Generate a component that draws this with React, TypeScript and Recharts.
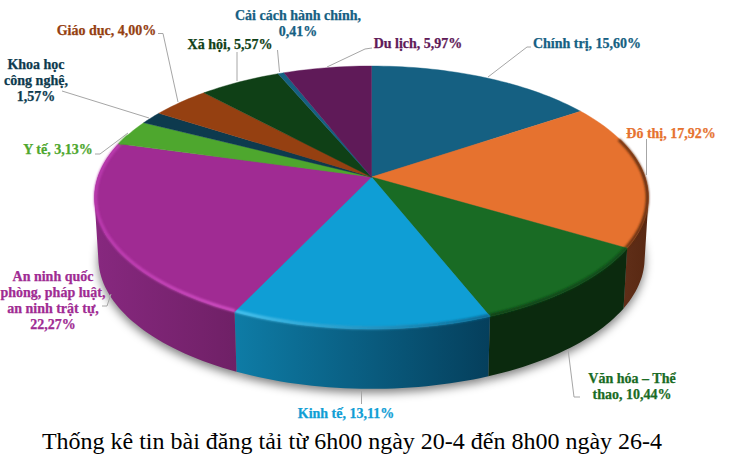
import { PieChart, Pie } from "recharts"

const categories = [
  "Chính trị", "Đô thị", "Văn hóa – Thể thao", "Kinh tế",
  "An ninh quốc phòng, pháp luật, an ninh trật tự", "Y tế", "Khoa học công nghệ",
  "Giáo dục", "Xã hội", "Cải cách hành chính", "Du lịch",
]
const shares = [15.6, 17.92, 10.44, 13.11, 22.27, 3.13, 1.57, 4.0, 5.57, 0.41, 5.97]
const colors = [
  "#156082", "#E6722F", "#196B24", "#0F9ED5", "#A02B93", "#4EA72E",
  "#0D3A4E", "#954011", "#0F4016", "#156082", "#5F1A58",
]
// left / right shade of the side wall
const wallLeft = ["#0b3a50", "#62301a", "#0b2a0e", "#0e7ca6", "#87287f", "#2f6a1c", "#0a2a38", "#5c2a0c", "#0a2a0e", "#0b3a50", "#3c1038"]
const wallRight = ["#0b3a50", "#582812", "#0b2a0e", "#053f5c", "#6f2066", "#2f6a1c", "#0a2a38", "#5c2a0c", "#0a2a0e", "#0b3a50", "#3c1038"]
// bevel along the top edge
const rimLeft = ["#156082", "#6e3312", "#0f4016", "#4cc6f2", "#bb3aaf", "#4EA72E", "#0D3A4E", "#954011", "#0F4016", "#156082", "#5F1A58"]
const rimRight = ["#156082", "#5a2a10", "#124a1a", "#0b6690", "#d350c6", "#4EA72E", "#0D3A4E", "#954011", "#0F4016", "#156082", "#5F1A58"]

const labelLines = [
  ["Chính trị, 15,60%"],
  ["Đô thị, 17,92%"],
  ["Văn hóa – Thể", "thao, 10,44%"],
  ["Kinh tế, 13,11%"],
  ["An ninh quốc", "phòng, pháp luật,", "an ninh trật tự,", "22,27%"],
  ["Y tế, 3,13%"],
  ["Khoa học", "công nghệ,", "1,57%"],
  ["Giáo dục, 4,00%"],
  ["Xã hội, 5,57%"],
  ["Cải cách hành chính,", "0,41%"],
  ["Du lịch, 5,97%"],
]

// label centre and top line baseline, then the leader's bend points
const labelLayout = [
  { x: 587, y: 48, leader: [[531, 47], [527, 47], [488, 77]] },
  { x: 671, y: 138, leader: [[646.5, 139], [646.5, 175]] },
  { x: 632, y: 383, leader: [[580, 397], [574, 397], [568, 349]] },
  { x: 346, y: 418, leader: [[361.5, 404], [361.5, 391]] },
  { x: 53, y: 281, leader: [[102, 306], [107, 306], [111, 294]] },
  { x: 58, y: 154, leader: [[95, 154], [100, 154], [128, 133]] },
  { x: 36, y: 69, leader: [[62, 91], [149, 118]] },
  { x: 106.5, y: 35, leader: [[158, 33.5], [163, 33.5], [178, 102]] },
  { x: 230, y: 49, leader: [[237, 52], [237, 81]] },
  { x: 298, y: 19.5, leader: [[277.5, 50], [279.5, 72]] },
  { x: 418, y: 48, leader: [[372, 48], [365, 49], [327, 67]] },
]

// perspective of the tilted disc: the apex sits above the middle of the ellipse
const APEX_X = 371.5
const APEX_Y = 177
const SCALE_X = 273.6
const SCALE_Y = 128.3
const TILT = 0.1559
const ELLIPSE_CY = 197.5
const FLOOR_CY = 258

const top = (deg: number) => {
  const t = (deg * Math.PI) / 180
  const d = 1 + TILT * Math.cos(t)
  return [APEX_X + (SCALE_X * Math.sin(t)) / d, APEX_Y - (SCALE_Y * Math.cos(t)) / d]
}
const floor = (deg: number) => {
  const [x, y] = top(deg)
  return [APEX_X + (x - APEX_X) * 0.986, FLOOR_CY + (y - ELLIPSE_CY) * 0.995]
}
const arc = (from: number, to: number, fn: (d: number) => number[]) => {
  const n = Math.max(2, Math.ceil(Math.abs(to - from) / 1.5))
  const pts: number[][] = []
  for (let i = 0; i <= n; i++) pts.push(fn(from + ((to - from) * i) / n))
  return pts
}
const toPath = (pts: number[][]) => pts.map((p, i) => `${i ? "L" : "M"}${p[0].toFixed(2)} ${p[1].toFixed(2)}`).join(" ")

// only the part of the rim that faces the viewer has a side wall
const WALL_FROM = 72
const WALL_TO = 290

const TopSector = (props: any) => {
  const a = 90 - props.startAngle
  const b = 90 - props.endAngle
  const i = props.index
  const ra = Math.max(a, WALL_FROM)
  const rb = Math.min(b, WALL_TO)
  // bevel sits just inside the edge, pulled a little towards the apex
  const inset = (d: number) => {
    const [x, y] = top(d)
    return [x + (APEX_X - x) * 0.004, y + (ELLIPSE_CY - y) * 0.008]
  }
  return (
    <g>
      <path d={`M${APEX_X} ${APEX_Y} ${toPath(arc(a, b, top)).replace("M", "L")} Z`} fill={props.fill} stroke={props.fill} strokeWidth={0.4} />
      {rb > ra && (
        <g>
          <linearGradient id={`rim${i}`} x1="0" x2="1" y1="0" y2="0">
            <stop offset="0" stopColor={rimLeft[i]} />
            <stop offset="1" stopColor={rimRight[i]} />
          </linearGradient>
          <path d={toPath(arc(ra, rb, inset))} fill="none" stroke={`url(#rim${i})`} strokeWidth={3} filter="url(#rimBlur)" />
        </g>
      )}
    </g>
  )
}

const FloorShadow = (props: any) => {
  const a = 90 - props.startAngle
  const b = 90 - props.endAngle
  const lowered = (d: number) => [floor(d)[0], floor(d)[1] + 4]
  return <path d={`M${APEX_X} ${FLOOR_CY} ${toPath(arc(a, b, lowered)).replace("M", "L")} Z`} fill="#000" fillOpacity={0.5} filter="url(#floorBlur)" />
}

// swept quads, so the straight silhouette between the top and floor ellipses is filled too
const wallPath = (a: number, b: number) => {
  const up = arc(a, b, top)
  const low = arc(a, b, floor)
  let d = ""
  for (let n = 0; n < up.length - 1; n++) {
    const quad = [up[n], up[n + 1], low[n + 1], low[n]]
    const area = quad.reduce((s, p, j) => {
      const q = quad[(j + 1) % 4]
      return s + p[0] * q[1] - q[0] * p[1]
    }, 0)
    d += `${toPath(area < 0 ? quad.reverse() : quad)} Z `
  }
  return d
}

const WallSector = (props: any) => {
  const a = Math.max(90 - props.startAngle, WALL_FROM)
  const b = Math.min(90 - props.endAngle, WALL_TO)
  if (b <= a) return <g />
  const i = props.index
  return (
    <g>
      <linearGradient id={`wall${i}`} x1="0" x2="1" y1="0" y2="0">
        <stop offset="0" stopColor={wallLeft[i]} />
        <stop offset="1" stopColor={wallRight[i]} />
      </linearGradient>
      <path d={wallPath(a, b)} fill={`url(#wall${i})`} />
    </g>
  )
}

const renderLabel = (props: any) => {
  const i = props.index
  const spot = labelLayout[i]
  return (
    <g key={categories[i]}>
      <polyline points={spot.leader.map((p) => p.join(",")).join(" ")} fill="none" stroke="#a6a6a6" strokeWidth={1} />
      <text x={spot.x} y={spot.y} textAnchor="middle" fill={colors[i]} stroke={colors[i]} strokeWidth={0.25} fontFamily="'Liberation Serif'" fontWeight="bold" fontSize={14}>
        {labelLines[i].map((line, n) => (
          <tspan key={line} x={spot.x} dy={n ? 16 : 0}>{line}</tspan>
        ))}
      </text>
    </g>
  )
}

const data = categories.map((name, i) => ({ name, value: shares[i], fill: colors[i] }))

export default function App() {
  return (
    <div style={{ position: "absolute", left: 0, top: 0, width: 730, height: 459, background: "#fff" }}>
      <PieChart width={730} height={459} margin={{ top: 0, right: 0, bottom: 0, left: 0 }}>
        <defs>
          <filter id="floorBlur" filterUnits="userSpaceOnUse" x="0" y="0" width="730" height="459">
            <feGaussianBlur stdDeviation="5" />
          </filter>
          <filter id="rimBlur" filterUnits="userSpaceOnUse" x="0" y="0" width="730" height="459">
            <feGaussianBlur stdDeviation="0.8" />
          </filter>
        </defs>
        <Pie data={data} dataKey="value" cx={APEX_X} cy={APEX_Y} outerRadius={130} startAngle={90} endAngle={-270} shape={FloorShadow} isAnimationActive={false} label={false} labelLine={false} stroke="none" />
        <Pie data={data} dataKey="value" cx={APEX_X} cy={APEX_Y} outerRadius={130} startAngle={90} endAngle={-270} shape={WallSector} isAnimationActive={false} label={false} labelLine={false} stroke="none" />
        <Pie data={data} dataKey="value" nameKey="name" cx={APEX_X} cy={APEX_Y} outerRadius={130} startAngle={90} endAngle={-270} shape={TopSector} isAnimationActive={false} label={renderLabel} labelLine={false} stroke="none" />
        <text x={352} y={449} textAnchor="middle" fill="#000" fontFamily="'Liberation Serif'" fontSize={24}>
          Thống kê tin bài đăng tải từ 6h00 ngày 20-4 đến 8h00 ngày 26-4
        </text>
      </PieChart>
    </div>
  )
}
